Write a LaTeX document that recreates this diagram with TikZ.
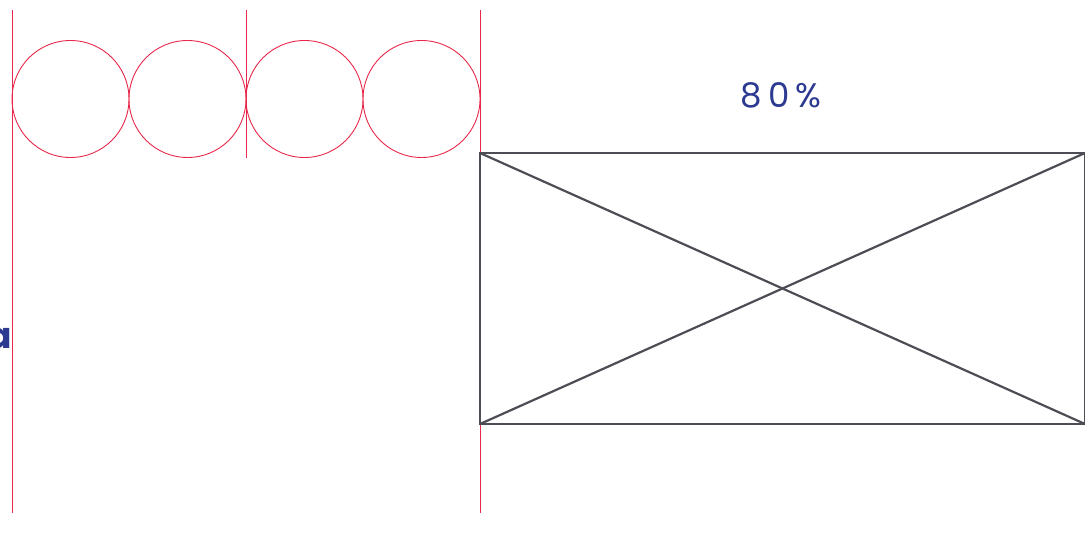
\documentclass[tikz,border=0pt]{standalone}
\usepackage{fontspec}
\setmainfont{Poppins}
\usetikzlibrary{positioning}
\definecolor{guidered}{HTML}{E8284A}
\definecolor{frameg}{HTML}{4D4D55}
\definecolor{navy}{HTML}{2B3990}

\begin{document}
\begin{tikzpicture}[x=1pt, y=-1pt,
          guide/.style={draw=guidered, line width=0.8pt},
          ring/.style={draw=guidered, line width=0.9pt},
          frame/.style={draw=frameg, line width=2.2pt},
          label/.style={text=navy, inner sep=0pt, font=\fontsize{34}{40}\selectfont\addfontfeatures{LetterSpace=18}}]

        \useasboundingbox (0,0) rectangle (1085,534);

        % guide lines
        \draw [guide] (12,10) -- (12,513);
        \draw [guide] (246,10) -- (246,158);
        \draw [guide] (480,10) -- (480,513);

        % four circles between the guides
        \foreach \i in {0,...,3}
          \draw [ring] (70.5+117*\i,99) circle (58.5);

        % image placeholder
        \coordinate (tl) at (480,153);
        \coordinate (tr) at (1085,153);
        \coordinate (bl) at (480,424);
        \coordinate (br) at (1085,424);
        \draw [frame] (tl) -- (tr) -- (br) -- (bl) -- cycle;
        \draw [frame] (tl) -- (br);
        \draw [frame] (bl) -- (tr);

        \node [label] (pct) at (781,95) {80\%};
        \node [text=navy, inner sep=0pt, anchor=east, font=\fontsize{36}{40}\selectfont\bfseries] (cut) at (12,338) {a};
      \end{tikzpicture}
\end{document}
